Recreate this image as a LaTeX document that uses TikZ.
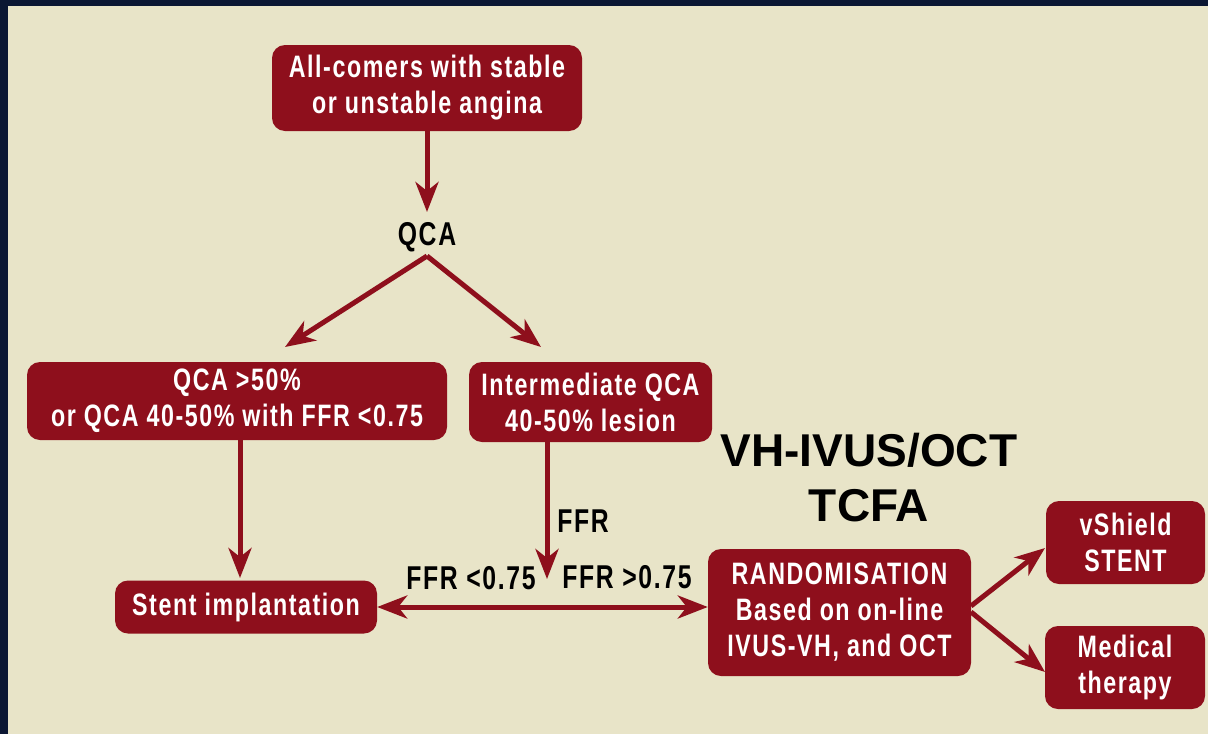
\documentclass[tikz,border=0pt]{standalone}
\usepackage{fontspec}
\newfontfamily\condfont[FakeStretch=0.75,LetterSpace=5]{Liberation Sans}
\newfontfamily\headfont{Liberation Sans}
\usetikzlibrary{arrows.meta,calc}
\definecolor{navy}{HTML}{0B1733}
\definecolor{beige}{HTML}{E8E4C8}
\definecolor{boxred}{HTML}{8E0F1C}
\tikzset{
  rbox/.style={fill=boxred, rounded corners=13pt, text=white, align=center,
    font=\condfont\bfseries\fontsize{31}{36}\selectfont, inner sep=0pt},
  lbl/.style={text=black, font=\condfont\bfseries\fontsize{33}{38}\selectfont, inner sep=0pt},
  conn/.style={draw=boxred, line width=5pt, -{Stealth[length=30pt,width=23pt,inset=9pt]}},
  dconn/.style={draw=boxred, line width=5pt, {Stealth[length=30pt,width=23pt,inset=9pt]}-{Stealth[length=30pt,width=23pt,inset=9pt]}}
}
\begin{document}
\begin{tikzpicture}[x=1pt,y=-1pt]
\useasboundingbox (0,0) rectangle (1208,734);
\fill[navy] (0,0) rectangle (1208,734);
\fill[beige] (8,6) rectangle (1208,734);
\node[rbox, minimum width=310pt, minimum height=86pt] (top) at (427,88) {All-comers with stable\\or unstable angina};
\node[lbl] (qca) at (427,237) {QCA};
\node[rbox, minimum width=420pt, minimum height=78pt] (lbox) at (237,401) {QCA >50\%\\or QCA 40-50\% with FFR <0.75};
\node[rbox, minimum width=243pt, minimum height=80pt] (mbox) at (590.5,402) {Intermediate QCA\\40-50\% lesion};
\node[rbox, minimum width=262pt, minimum height=53pt] (stent) at (246,607) {Stent implantation};
\node[rbox, minimum width=263pt, minimum height=127pt] (rand) at (839.5,612.5) {RANDOMISATION\\Based on on-line\\IVUS-VH, and OCT};
\node[rbox, minimum width=159pt, minimum height=83pt] (vsh) at (1125.5,542.5) {vShield\\STENT};
\node[rbox, minimum width=160pt, minimum height=83pt] (med) at (1125,667.5) {Medical\\therapy};
\node[font=\headfont\bfseries\fontsize{46}{55}\selectfont, align=center, inner sep=0pt] (vh) at (869,478) {VH-IVUS/OCT\\TCFA};
\node[lbl] (ffr) at (583,521) {FFR};
\node[lbl] (ffrlo) at (471,578) {FFR <0.75};
\node[lbl] (ffrhi) at (627,577) {FFR >0.75};
\coordinate (la) at (285,347);
\coordinate (ra) at (541,347);
\coordinate (ffrend) at (547,579);
\draw[conn] (top.south) -- (427,212);
\draw[conn] (427,256) -- (la);
\draw[conn] (427,256) -- (ra);
\draw[conn] (240,440) -- (240,578);
\draw[conn] (547,442) -- (ffrend);
\draw[dconn] (stent.east) -- (stent.east -| rand.west);
\draw[conn] (971,606) -- (1045,548);
\draw[conn] (971,612) -- (1045,672);
\end{tikzpicture}
\end{document}
